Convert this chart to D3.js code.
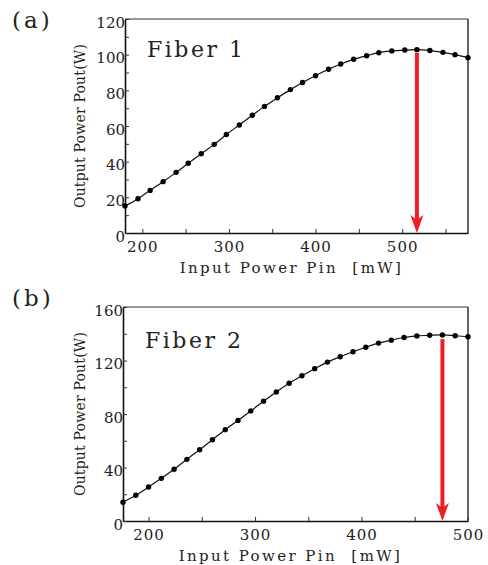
<!DOCTYPE html>
<html>
<head>
<meta charset="utf-8">
<script src="https://cdn.jsdelivr.net/npm/d3@7"></script>
<style>
  body { margin: 0; background: #fff; }
</style>
</head>
<body>
<svg id="chart" width="488" height="565"></svg>
<script>
// Fiber 1 measurements (Pin in mW, Pout in W)
const pinA = [180, 195, 209, 224, 239, 253, 268, 283, 297, 312, 327, 341, 356, 371,
              385, 400, 415, 429, 444, 459, 473, 488, 503, 517, 532, 547, 561, 576];
const poutA = [15.1, 19.2, 23.9, 28.8, 34.0, 39.1, 44.5, 49.7, 55.2, 60.6, 66.0, 71.0, 75.8, 80.4,
               84.4, 88.2, 91.8, 94.8, 97.4, 99.4, 101.1, 102.1, 102.6, 102.8, 102.3, 101.3, 100.0, 98.3];
// Fiber 2 measurements
const pinB = [176, 188, 200, 212, 224, 236, 248, 260, 272, 284, 296, 308, 320, 332,
              344, 356, 368, 380, 392, 404, 416, 428, 440, 452, 464, 476, 488, 500];
const poutB = [14.0, 19.2, 25.4, 31.9, 38.7, 46.1, 53.3, 60.8, 68.3, 75.2, 82.3, 89.6, 96.5, 103.0,
               108.6, 113.9, 118.8, 122.8, 126.5, 129.9, 133.0, 135.2, 137.2, 138.4, 138.9, 139.1, 138.5, 137.8];

// axis ticks
const xTicksA = [200, 250, 300, 350, 400, 450, 500, 550];
const xLabelsA = [200, 300, 400, 500];
const yTicksA = [0, 10, 20, 30, 40, 50, 60, 70, 80, 90, 100, 110, 120];
const yLabelsA = [0, 20, 40, 60, 80, 100, 120];
const xTicksB = [200, 250, 300, 350, 400, 450, 500];
const xLabelsB = [200, 300, 400, 500];
const yTicksB = [0, 20, 40, 60, 80, 100, 120, 140, 160];
const yLabelsB = [0, 40, 80, 120, 160];

// arrow marking the maximum (Pin, top of shaft in W)
const arrowA = [517, 101];
const arrowB = [476, 136];

// only DejaVu Serif resolves as a serif face here
const FONT = "DejaVu Serif";
const svg = d3.select("#chart");

function panel(opt) {
    const g = svg.append("g").attr("transform", `translate(${opt.left},${opt.top})`);
    const w = opt.width, h = opt.height;

    const x = d3.scaleLinear().domain(opt.xDomain).range([0, w]);
    const y = d3.scaleLinear().domain(opt.yDomain).range([h, 0]);

    // frame top/right
    g.append("line").attr("x1", 0).attr("x2", w).attr("y1", 0).attr("y2", 0)
        .attr("stroke", "#333").attr("stroke-width", 1);
    g.append("line").attr("x1", w).attr("x2", w).attr("y1", 0).attr("y2", h)
        .attr("stroke", "#111").attr("stroke-width", 1.3);

    // bottom axis, ticks pointing inside
    const xAxis = g.append("g").attr("transform", `translate(0,${h})`)
        .call(d3.axisBottom(x).tickValues(opt.xTicks).tickSizeInner(-4).tickSizeOuter(0)
            .tickFormat(d => opt.xLabels.includes(d) ? d : ""));
    xAxis.attr("font-family", FONT);
    xAxis.select(".domain").attr("stroke", "#111").attr("stroke-width", 1.6);
    xAxis.selectAll(".tick line").attr("stroke", "#333").attr("stroke-width", 1);
    xAxis.selectAll(".tick text").attr("y", 8).attr("dy", "0.71em").attr("fill", "#222")
        .attr("font-family", FONT).attr("font-size", 15).style("letter-spacing", "1px");

    // left axis
    const yAxis = g.append("g")
        .call(d3.axisLeft(y).tickValues(opt.yTicks).tickSizeInner(-4).tickSizeOuter(0)
            .tickFormat(d => opt.yLabels.includes(d) ? d : ""));
    yAxis.attr("font-family", FONT);
    yAxis.select(".domain").attr("stroke", "#111").attr("stroke-width", 1.6);
    yAxis.selectAll(".tick line").attr("stroke", "#333").attr("stroke-width", 1);
    yAxis.selectAll(".tick text").attr("x", 0).attr("dy", "0.55em").attr("fill", "#222")
        .attr("font-family", FONT).attr("font-size", 15);

    // curve
    const pts = opt.pin.map((p, i) => [p, opt.pout[i]]);
    g.append("path").datum(pts)
        .attr("fill", "none").attr("stroke", "#111").attr("stroke-width", 1.2)
        .attr("d", d3.line().x(d => x(d[0])).y(d => y(d[1])).curve(d3.curveMonotoneX));
    g.selectAll(".dot").data(pts).enter().append("circle")
        .attr("class", "dot")
        .attr("cx", d => x(d[0])).attr("cy", d => y(d[1])).attr("r", 2.7)
        .attr("fill", "#000");

    // red arrow
    const ax = x(opt.arrow[0]), atop = y(opt.arrow[1]), abot = y(0);
    g.append("rect").attr("x", ax - 2).attr("y", atop).attr("width", 4).attr("height", abot - atop - 12)
        .attr("fill", "#ee1c25");
    g.append("path")
        .attr("d", `M${ax - 6.5},${abot - 18} L${ax},${abot - 13} L${ax + 6.5},${abot - 18} L${ax},${abot} Z`)
        .attr("fill", "#ee1c25");

    // fiber name
    g.append("text").attr("x", opt.nameX).attr("y", opt.nameY).attr("fill", "#222")
        .attr("font-family", FONT).attr("font-size", 22).style("letter-spacing", "2.5px").text(opt.name);

    // axis titles
    g.append("text").attr("x", w / 2 - 5).attr("y", h + 40).attr("text-anchor", "middle").attr("fill", "#222")
        .attr("font-family", FONT).attr("font-size", 15).style("letter-spacing", "2.4px")
        .text("Input Power Pin\u00a0 [mW]");
    g.append("text").attr("transform", `translate(${opt.yTitleX},${h / 2}) rotate(-90)`)
        .attr("text-anchor", "middle").attr("fill", "#222")
        .attr("font-family", FONT).attr("font-size", 14).style("letter-spacing", "0.2px")
        .text("Output Power Pout(W)");

    // panel letter
    svg.append("text").attr("x", 12).attr("y", opt.top + opt.letterDy).attr("fill", "#222")
        .attr("font-family", FONT).attr("font-size", 23).style("letter-spacing", "3px").text(opt.letter);
}

panel({
    left: 125, top: 19, width: 343, height: 214,
    xDomain: [180, 576], yDomain: [0, 120],
    xTicks: xTicksA, xLabels: xLabelsA, yTicks: yTicksA, yLabels: yLabelsA,
    pin: pinA, pout: poutA, arrow: arrowA,
    name: "Fiber 1", nameX: 22, nameY: 38, yTitleX: -40,
    letter: "(a)", letterDy: 9
});

panel({
    left: 123, top: 307, width: 345, height: 214,
    xDomain: [176, 500], yDomain: [0, 160],
    xTicks: xTicksB, xLabels: xLabelsB, yTicks: yTicksB, yLabels: yLabelsB,
    pin: pinB, pout: poutB, arrow: arrowB,
    name: "Fiber 2", nameX: 22, nameY: 41, yTitleX: -38,
    letter: "(b)", letterDy: -1
});
</script>
</body>
</html>
